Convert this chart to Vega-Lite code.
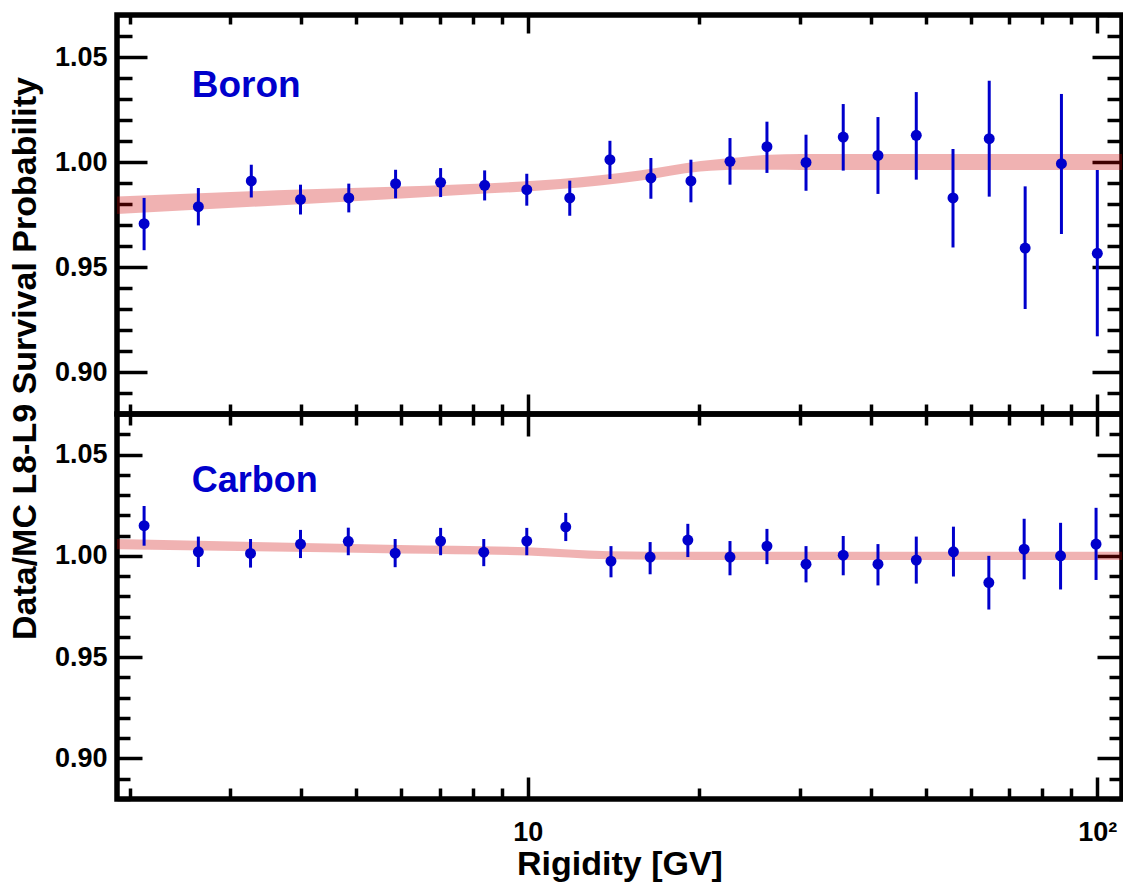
{
  "$schema": "https://vega.github.io/schema/vega-lite/v6.json",
  "padding": {"left": 5, "top": 10, "right": 0, "bottom": 0},
  "background": "white",
  "config": {
    "view": {"stroke": "#000000", "strokeWidth": 5.5},
    "font": "Liberation Sans",
    "axis": {
      "domain": false, "grid": false, "tickColor": "#000000", "tickWidth": 3.5,
      "labelFont": "Liberation Sans", "labelFontWeight": "bold", "labelColor": "#000000",
      "titleFont": "Liberation Sans", "titleFontWeight": "bold", "titleColor": "#000000",
      "labelFlush": false, "labelOverlap": false
    }
  },
  "datasets": {
    "boron": [
      {"R": 2.12, "v": 0.9706, "lo": 0.958, "hi": 0.9829},
      {"R": 2.64, "v": 0.9787, "lo": 0.9698, "hi": 0.9876},
      {"R": 3.27, "v": 0.991, "lo": 0.9831, "hi": 0.9987},
      {"R": 3.99, "v": 0.9822, "lo": 0.975, "hi": 0.9892},
      {"R": 4.85, "v": 0.9829, "lo": 0.976, "hi": 0.9897},
      {"R": 5.86, "v": 0.9897, "lo": 0.9827, "hi": 0.9963},
      {"R": 7.03, "v": 0.9903, "lo": 0.9833, "hi": 0.9971},
      {"R": 8.4, "v": 0.9889, "lo": 0.9817, "hi": 0.996},
      {"R": 9.96, "v": 0.9868, "lo": 0.9792, "hi": 0.9944},
      {"R": 11.85, "v": 0.9829, "lo": 0.9744, "hi": 0.9911},
      {"R": 13.94, "v": 1.0011, "lo": 0.9919, "hi": 1.0101},
      {"R": 16.45, "v": 0.9924, "lo": 0.9825, "hi": 1.0019},
      {"R": 19.34, "v": 0.991, "lo": 0.9808, "hi": 1.0011},
      {"R": 22.65, "v": 1.0003, "lo": 0.9892, "hi": 1.0114},
      {"R": 26.3, "v": 1.0073, "lo": 0.9948, "hi": 1.0192},
      {"R": 30.8, "v": 0.9998, "lo": 0.9863, "hi": 1.013},
      {"R": 35.8, "v": 1.0119, "lo": 0.9959, "hi": 1.0276},
      {"R": 41.2, "v": 1.0031, "lo": 0.9848, "hi": 1.0214},
      {"R": 48.1, "v": 1.0127, "lo": 0.9916, "hi": 1.0333},
      {"R": 55.8, "v": 0.9829, "lo": 0.9593, "hi": 1.0062},
      {"R": 64.6, "v": 1.0111, "lo": 0.9835, "hi": 1.0387},
      {"R": 74.7, "v": 0.959, "lo": 0.93, "hi": 0.9884},
      {"R": 86.5, "v": 0.9992, "lo": 0.9657, "hi": 1.0324},
      {"R": 100, "v": 0.9565, "lo": 0.917, "hi": 0.9962}
    ],
    "carbon": [
      {"R": 2.12, "v": 1.0149, "lo": 1.005, "hi": 1.0246},
      {"R": 2.64, "v": 1.002, "lo": 0.9945, "hi": 1.0095},
      {"R": 3.26, "v": 1.0012, "lo": 0.9942, "hi": 1.0083},
      {"R": 3.99, "v": 1.0058, "lo": 0.9989, "hi": 1.0128},
      {"R": 4.84, "v": 1.0072, "lo": 1.0003, "hi": 1.0139},
      {"R": 5.85, "v": 1.0013, "lo": 0.9944, "hi": 1.0083},
      {"R": 7.03, "v": 1.0073, "lo": 1.0003, "hi": 1.0138},
      {"R": 8.37, "v": 1.0018, "lo": 0.9949, "hi": 1.0083},
      {"R": 9.96, "v": 1.0073, "lo": 1.0003, "hi": 1.0138},
      {"R": 11.66, "v": 1.0143, "lo": 1.0073, "hi": 1.0212},
      {"R": 14.0, "v": 0.9974, "lo": 0.9894, "hi": 1.0048},
      {"R": 16.4, "v": 0.9994, "lo": 0.9909, "hi": 1.0068},
      {"R": 19.1, "v": 1.0078, "lo": 0.9994, "hi": 1.0158},
      {"R": 22.65, "v": 0.9994, "lo": 0.9904, "hi": 1.0073},
      {"R": 26.3, "v": 1.0048, "lo": 0.9959, "hi": 1.0133},
      {"R": 30.8, "v": 0.9959, "lo": 0.9869, "hi": 1.0048},
      {"R": 35.8, "v": 1.0003, "lo": 0.9904, "hi": 1.0098},
      {"R": 41.2, "v": 0.9959, "lo": 0.9854, "hi": 1.0058},
      {"R": 48.1, "v": 0.9979, "lo": 0.9863, "hi": 1.0095},
      {"R": 55.9, "v": 1.002, "lo": 0.9898, "hi": 1.0144},
      {"R": 64.5, "v": 0.9868, "lo": 0.9735, "hi": 1.0},
      {"R": 74.4, "v": 1.0033, "lo": 0.9884, "hi": 1.0183},
      {"R": 86.2, "v": 1.0, "lo": 0.9834, "hi": 1.0163},
      {"R": 99.5, "v": 1.0058, "lo": 0.9881, "hi": 1.0237}
    ],
    "bandB": [
      {"R": 1.9, "lo": 0.9752, "hi": 0.9836},
      {"R": 3.98, "lo": 0.9799, "hi": 0.9869},
      {"R": 7.9, "lo": 0.9845, "hi": 0.9895},
      {"R": 11.4, "lo": 0.9871, "hi": 0.9919},
      {"R": 15.7, "lo": 0.9911, "hi": 0.9959},
      {"R": 20.1, "lo": 0.9955, "hi": 1.0005},
      {"R": 23.6, "lo": 0.9963, "hi": 1.0023},
      {"R": 26.6, "lo": 0.9963, "hi": 1.0035},
      {"R": 30.1, "lo": 0.9962, "hi": 1.0038},
      {"R": 110.5, "lo": 0.9962, "hi": 1.0038}
    ],
    "bandC": [
      {"R": 1.9, "lo": 1.0033, "hi": 1.0083},
      {"R": 5.96, "lo": 1.0012, "hi": 1.0054},
      {"R": 10.0, "lo": 1.0002, "hi": 1.0042},
      {"R": 13.9, "lo": 0.9983, "hi": 1.0023},
      {"R": 20.0, "lo": 0.998, "hi": 1.002},
      {"R": 110.5, "lo": 0.998, "hi": 1.002}
    ]
  },
  "spacing": 0,
  "bounds": "flush",
  "vconcat": [
    {
      "width": 1005,
      "height": 399,
      "resolve": {"axis": {"x": "independent", "y": "independent"}},
      "layer": [
        {
          "data": {"name": "bandB"},
          "mark": {"type": "area", "color": "#CC0000", "opacity": 0.3, "interpolate": "monotone", "clip": true},
          "encoding": {
            "x": {"field": "R", "type": "quantitative", "scale": {"type": "log", "domain": [1.9, 110.5], "nice": false},
                  "axis": {"orient": "bottom", "values": [10, 100], "tickSize": -20, "labels": false, "title": null}},
            "y": {"field": "lo", "type": "quantitative", "scale": {"domain": [0.88, 1.07], "nice": false, "zero": false},
                  "axis": {"orient": "left", "values": [0.9, 0.95, 1.0, 1.05], "tickSize": -30, "format": ".2f", "labelFontSize": 27, "labelPadding": 40,
                           "title": "Data/MC L8-L9 Survival Probability", "titleFontSize": 34, "titleX": -82, "titleY": 343, "titleBaseline": "alphabetic", "titleAngle": 270}},
            "y2": {"field": "hi"}
          }
        },
        {
          "data": {"name": "boron"},
          "mark": {"type": "rule", "color": "#0000CC", "strokeWidth": 3, "clip": true},
          "encoding": {
            "x": {"field": "R", "type": "quantitative", "scale": {"type": "log", "domain": [1.9, 110.5], "nice": false},
                  "axis": {"orient": "bottom", "values": [2, 3, 4, 5, 6, 7, 8, 9, 20, 30, 40, 50, 60, 70, 80, 90], "tickSize": -10, "labels": false, "title": null}},
            "y": {"field": "lo", "type": "quantitative", "scale": {"domain": [0.88, 1.07], "nice": false, "zero": false},
                  "axis": {"orient": "left", "values": [0.88, 0.89, 0.91, 0.92, 0.93, 0.94, 0.96, 0.97, 0.98, 0.99, 1.01, 1.02, 1.03, 1.04, 1.06, 1.07], "tickSize": -15, "labels": false, "title": null}},
            "y2": {"field": "hi"}
          }
        },
        {
          "data": {"name": "boron"},
          "mark": {"type": "circle", "color": "#0000CC", "size": 120, "opacity": 1},
          "encoding": {
            "x": {"field": "R", "type": "quantitative", "scale": {"type": "log", "domain": [1.9, 110.5], "nice": false},
                  "axis": {"orient": "top", "values": [10, 100], "tickSize": -18, "labels": false, "title": null}},
            "y": {"field": "v", "type": "quantitative", "scale": {"domain": [0.88, 1.07], "nice": false, "zero": false},
                  "axis": {"orient": "right", "values": [0.9, 0.95, 1.0, 1.05], "tickSize": -30, "labels": false, "title": null}}
          }
        },
        {
          "data": {"values": [{}]},
          "mark": {"type": "text", "color": "#0000CC", "fontSize": 37, "fontWeight": "bold", "font": "Liberation Sans", "align": "left", "baseline": "alphabetic"},
          "encoding": {
            "x": {"datum": 2.57, "type": "quantitative", "scale": {"type": "log", "domain": [1.9, 110.5], "nice": false},
                  "axis": {"orient": "top", "values": [2, 3, 4, 5, 6, 7, 8, 9, 20, 30, 40, 50, 60, 70, 80, 90], "tickSize": -9, "labels": false, "title": null}},
            "y": {"datum": 1.031, "type": "quantitative", "scale": {"domain": [0.88, 1.07], "nice": false, "zero": false},
                  "axis": {"orient": "right", "values": [0.88, 0.89, 0.91, 0.92, 0.93, 0.94, 0.96, 0.97, 0.98, 0.99, 1.01, 1.02, 1.03, 1.04, 1.06, 1.07], "tickSize": -15, "labels": false, "title": null}},
            "text": {"value": "Boron"}
          }
        }
      ]
    },
    {
      "width": 1005,
      "height": 385,
      "resolve": {"axis": {"x": "independent", "y": "independent"}},
      "layer": [
        {
          "data": {"name": "bandC"},
          "mark": {"type": "area", "color": "#CC0000", "opacity": 0.3, "interpolate": "monotone", "clip": true},
          "encoding": {
            "x": {"field": "R", "type": "quantitative", "scale": {"type": "log", "domain": [1.9, 110.5], "nice": false},
                  "axis": {"orient": "bottom", "values": [10, 100], "tickSize": -22, "labelExpr": "datum.value == 10 ? '10' : '10²'", "labelFontSize": 27, "labelPadding": 42,
                           "title": "Rigidity [GV]", "titleFontSize": 34, "titleY": 75, "titleBaseline": "alphabetic"}},
            "y": {"field": "lo", "type": "quantitative", "scale": {"domain": [0.88, 1.07], "nice": false, "zero": false},
                  "axis": {"orient": "left", "values": [0.9, 0.95, 1.0, 1.05], "tickSize": -25, "format": ".2f", "labelFontSize": 27, "labelPadding": 35, "title": null}},
            "y2": {"field": "hi"}
          }
        },
        {
          "data": {"name": "carbon"},
          "mark": {"type": "rule", "color": "#0000CC", "strokeWidth": 3, "clip": true},
          "encoding": {
            "x": {"field": "R", "type": "quantitative", "scale": {"type": "log", "domain": [1.9, 110.5], "nice": false},
                  "axis": {"orient": "bottom", "values": [2, 3, 4, 5, 6, 7, 8, 9, 20, 30, 40, 50, 60, 70, 80, 90], "tickSize": -11, "labels": false, "title": null}},
            "y": {"field": "lo", "type": "quantitative", "scale": {"domain": [0.88, 1.07], "nice": false, "zero": false},
                  "axis": {"orient": "left", "values": [0.88, 0.89, 0.91, 0.92, 0.93, 0.94, 0.96, 0.97, 0.98, 0.99, 1.01, 1.02, 1.03, 1.04, 1.06, 1.07], "tickSize": -13, "labels": false, "title": null}},
            "y2": {"field": "hi"}
          }
        },
        {
          "data": {"name": "carbon"},
          "mark": {"type": "circle", "color": "#0000CC", "size": 120, "opacity": 1},
          "encoding": {
            "x": {"field": "R", "type": "quantitative", "scale": {"type": "log", "domain": [1.9, 110.5], "nice": false},
                  "axis": {"orient": "top", "values": [10, 100], "tickSize": -22, "labels": false, "title": null}},
            "y": {"field": "v", "type": "quantitative", "scale": {"domain": [0.88, 1.07], "nice": false, "zero": false},
                  "axis": {"orient": "right", "values": [0.9, 0.95, 1.0, 1.05], "tickSize": -25, "labels": false, "title": null}}
          }
        },
        {
          "data": {"values": [{}]},
          "mark": {"type": "text", "color": "#0000CC", "fontSize": 36, "fontWeight": "bold", "font": "Liberation Sans", "align": "left", "baseline": "alphabetic"},
          "encoding": {
            "x": {"datum": 2.57, "type": "quantitative", "scale": {"type": "log", "domain": [1.9, 110.5], "nice": false},
                  "axis": {"orient": "top", "values": [2, 3, 4, 5, 6, 7, 8, 9, 20, 30, 40, 50, 60, 70, 80, 90], "tickSize": -11, "labels": false, "title": null}},
            "y": {"datum": 1.0314, "type": "quantitative", "scale": {"domain": [0.88, 1.07], "nice": false, "zero": false},
                  "axis": {"orient": "right", "values": [0.88, 0.89, 0.91, 0.92, 0.93, 0.94, 0.96, 0.97, 0.98, 0.99, 1.01, 1.02, 1.03, 1.04, 1.06, 1.07], "tickSize": -13, "labels": false, "title": null}},
            "text": {"value": "Carbon"}
          }
        }
      ]
    }
  ]
}
